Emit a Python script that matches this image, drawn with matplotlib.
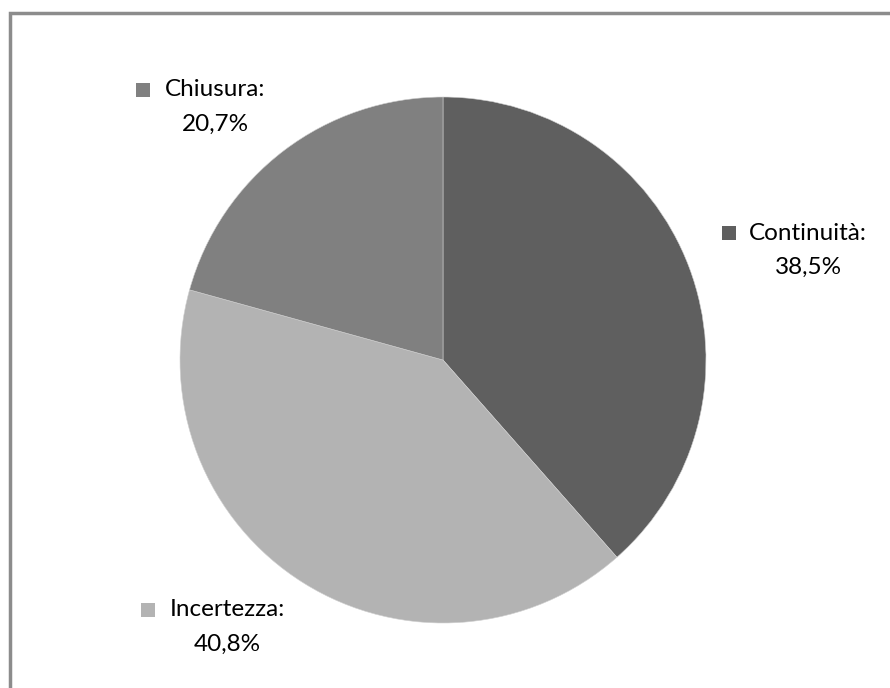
import matplotlib
matplotlib.use("Agg")
from matplotlib import pyplot as plt
from matplotlib.patches import Rectangle

categorie = ["Continuità", "Incertezza", "Chiusura"]
percentuali = [38.5, 40.8, 20.7]
colori = ["#5f5f5f", "#b3b3b3", "#808080"]

W, H = 890, 688
fig = plt.figure(figsize=(W / 100, H / 100), dpi=100)
plt.rcParams['font.family'] = ['Lato', 'DejaVu Sans']

# cornice grigia attorno al grafico
fig.patches.append(Rectangle((10 / W, -0.1), 1.2, 1 - 13 / H + 0.1,
                             transform=fig.transFigure, fill=False,
                             edgecolor="#8c8c8c", linewidth=2.5))

# torta: centro (443, 360) px, raggio 263 px
cx, cy, r = 443, 360, 263
ax = fig.add_axes([(cx - r) / W, (H - cy - r) / H, 2 * r / W, 2 * r / H])
ax.pie(percentuali, colors=colori, startangle=90, counterclock=False,
       wedgeprops=dict(edgecolor="#d0d0d0", linewidth=0.4))
ax.set_xlim(-1, 1)
ax.set_ylim(-1, 1)
ax.set_aspect("equal")
ax.axis("off")

# etichette con quadratino colorato
posizioni = {
    "Continuità": (808, 233, 729),
    "Incertezza": (227, 610, 148),
    "Chiusura": (215, 90, 143),
}
for nome, valore, colore in zip(categorie, percentuali, colori):
    tx, ty, sx = posizioni[nome]
    fig.text(tx / W, 1 - ty / H, nome + ":", ha="center", va="center",
             fontsize=17.5, color="#000000")
    fig.text(tx / W, 1 - (ty + 34) / H,
             f"{valore:.1f}".replace(".", ",") + "%",
             ha="center", va="center", fontsize=17.5, color="#000000")
    fig.patches.append(Rectangle(((sx - 7) / W, 1 - (ty + 7) / H), 14 / W, 14 / H,
                                 transform=fig.transFigure, facecolor=colore,
                                 edgecolor="none"))

fig.savefig("out.png", dpi=100)
